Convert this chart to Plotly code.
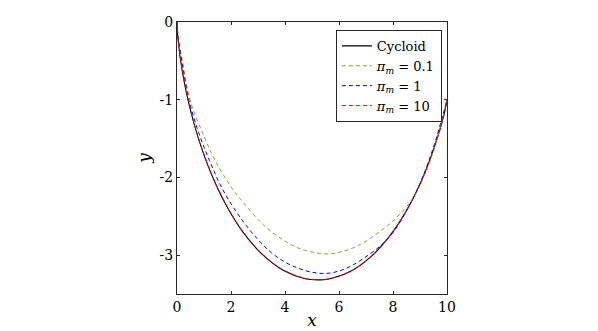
import plotly.graph_objects as go

# values
cycloid_x = [0, 0.004, 0.034, 0.114, 0.263, 0.500, 0.834, 1.272, 1.811, 2.443, 3.157, 3.931,
             4.746, 5.215, 5.575, 6.392, 7.174, 7.896, 8.541, 9.093, 9.544, 9.892, 10.0]
cycloid_y = [0, -0.052, -0.203, -0.445, -0.763, -1.137, -1.543, -1.956, -2.351, -2.703, -2.990, -3.194,
             -3.303, -3.318, -3.310, -3.215, -3.022, -2.745, -2.401, -2.010, -1.598, -1.189, -1.0]

pm01_x = [0, 0.05, 0.2, 0.48, 1.0, 1.41, 2.0, 2.33, 3.0, 3.5, 4.0, 4.5, 5.0, 5.67, 6.04, 6.5,
          7.0, 7.5, 8.0, 8.63, 9.0, 9.5, 10.0]
pm01_y = [0, -0.2, -0.5, -1.0, -1.47, -1.78, -2.12, -2.27, -2.54, -2.70, -2.82, -2.91, -2.96,
          -2.985, -2.96, -2.91, -2.82, -2.70, -2.56, -2.32, -2.10, -1.66, -1.0]

pm1_x = [0, 0.05, 0.2, 0.44, 0.8, 1.2, 1.7, 2.33, 3.0, 3.5, 4.0, 4.5, 5.0, 5.54, 6.04, 6.5,
         7.0, 7.5, 8.0, 8.5, 9.0, 9.5, 10.0]
pm1_y = [0, -0.22, -0.55, -1.0, -1.42, -1.78, -2.16, -2.51, -2.80, -2.97, -3.09, -3.17, -3.22,
         -3.235, -3.2, -3.13, -3.02, -2.89, -2.71, -2.43, -2.08, -1.61, -1.0]

pm10_x = cycloid_x
pm10_y = [0, -0.05, -0.20, -0.44, -0.755, -1.13, -1.535, -1.95, -2.345, -2.70, -2.985, -3.19,
          -3.30, -3.315, -3.308, -3.215, -3.022, -2.745, -2.40, -2.01, -1.598, -1.19, -1.0]

x_ticks = [0, 2, 4, 6, 8, 10]
y_ticks = [0, -1, -2, -3]
y_tick_text = ["0", "-1", "-2", "-3"]

FONT = "DejaVu Serif, Liberation Serif, serif"
AXIS_COLOR = "rgb(40,40,40)"


def pm_label(val):
    return "<i>π</i><sub><i>m</i></sub> = " + val


fig = go.Figure()

fig.add_trace(go.Scatter(x=cycloid_x, y=cycloid_y, mode="lines", name="Cycloid",
                         line=dict(color="black", width=1.1, shape="spline")))
fig.add_trace(go.Scatter(x=pm01_x, y=pm01_y, mode="lines", name=pm_label("0.1"),
                         line=dict(color="rgb(119,172,48)", width=1, dash="4px,3px", shape="spline")))
fig.add_trace(go.Scatter(x=pm1_x, y=pm1_y, mode="lines", name=pm_label("1"),
                         line=dict(color="blue", width=1, dash="4px,3px", shape="spline")))
fig.add_trace(go.Scatter(x=pm10_x, y=pm10_y, mode="lines", name=pm_label("10"),
                         line=dict(color="red", width=1, dash="4px,3px", shape="spline")))

axis_common = dict(
    showline=True,
    linecolor=AXIS_COLOR,
    linewidth=1,
    mirror="ticks",
    ticks="inside",
    ticklen=3,
    tickcolor=AXIS_COLOR,
    showgrid=False,
    zeroline=False,
    automargin=False,
    tickfont=dict(family=FONT, size=14, color="black"),
)

# the page body adds an 8px offset, so the figure is drawn 8px smaller
fig.update_layout(
    width=590,
    height=323,
    margin=dict(l=169, r=151, t=14, b=37),
    paper_bgcolor="white",
    plot_bgcolor="white",
    font=dict(family=FONT, size=14, color="black"),
    xaxis=dict(
        range=[0, 10],
        tickvals=x_ticks,
        title=dict(text="<i>x</i>", font=dict(family=FONT, size=17), standoff=0),
        **axis_common,
    ),
    yaxis=dict(
        range=[-3.5, 0],
        tickvals=y_ticks,
        ticktext=y_tick_text,
        title=dict(text="<i>y</i>", font=dict(family=FONT, size=17), standoff=4),
        **axis_common,
    ),
    legend=dict(
        x=0.981,
        y=0.971,
        xanchor="right",
        yanchor="top",
        bgcolor="white",
        bordercolor=AXIS_COLOR,
        borderwidth=1,
        itemwidth=30,
        tracegroupgap=0,
        font=dict(family=FONT, size=13),
    ),
    showlegend=True,
)

fig.write_html("out.html")
